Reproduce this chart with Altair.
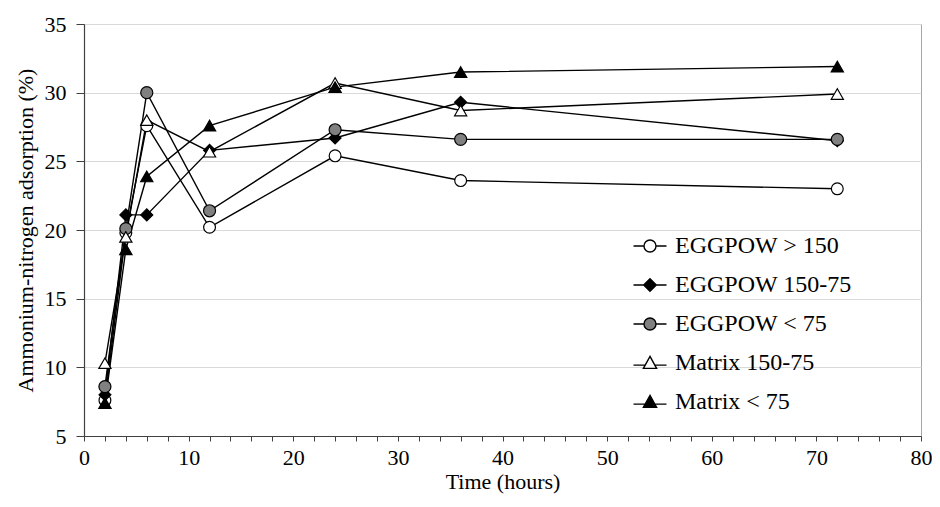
import altair as alt
import pandas as pd

hours = [2, 4, 6, 12, 24, 36, 72]
series_names = ["EGGPOW > 150", "EGGPOW 150-75", "EGGPOW < 75", "Matrix 150-75", "Matrix < 75"]
eggpow_gt150 = [7.6, 19.8, 27.6, 20.2, 25.4, 23.6, 23.0]
eggpow_150_75 = [8.0, 21.1, 21.1, 25.8, 26.7, 29.3, 26.5]
eggpow_lt75 = [8.6, 20.1, 30.0, 21.4, 27.3, 26.6, 26.6]
matrix_150_75 = [10.3, 19.5, 28.0, 25.7, 30.7, 28.7, 29.9]
matrix_lt75 = [7.4, 18.6, 23.9, 27.6, 30.4, 31.5, 31.9]

all_values = [eggpow_gt150, eggpow_150_75, eggpow_lt75, matrix_150_75, matrix_lt75]
rows = []
for name, vals in zip(series_names, all_values):
    for h, v in zip(hours, vals):
        rows.append({"series": name, "time": h, "value": v})
df = pd.DataFrame(rows)

FONT = "Liberation Serif"
fills = ["white", "black", "#808080", "white", "black"]
strokes = ["black", "black", "black", "black", "black"]
shapes = ["circle", "diamond", "circle", "triangle-up", "triangle-up"]
sizes = [140, 150, 150, 190, 190]

# legend symbols: line stub + marker
circ = "M-2.75,0H-1M1,0H2.75M1,0A1,1,0,1,1,-1,0A1,1,0,1,1,1,0Z"
diam = "M-2.75,0H-1M1,0H2.75M0,-1.05L1.05,0L0,1.05L-1.05,0Z"
tri = "M-2.75,0.35H-0.8M0.8,0.35H2.75M0,-1.1L1.1,0.9L-1.1,0.9Z"
legend_shapes = [circ, diam, circ, tri, tri]

x_enc = alt.X(
    "time:Q",
    scale=alt.Scale(domain=[0, 80], nice=False, zero=False),
    axis=alt.Axis(
        title="Time (hours)",
        values=list(range(0, 81, 2)),
        labelExpr="datum.value % 10 === 0 ? datum.label : ''",
        labelOverlap=False,
        labelFlush=False,
        grid=False,
        tickSize=5,
        labelPadding=6,
        titlePadding=3,
        labelFont=FONT,
        titleFont=FONT,
        labelFontSize=22,
        titleFontSize=22,
    ),
)
y_enc = alt.Y(
    "value:Q",
    scale=alt.Scale(domain=[5, 35], nice=False, zero=False),
    axis=alt.Axis(
        title="Ammonium-nitrogen adsorption  (%)",
        values=[5, 10, 15, 20, 25, 30, 35],
        grid=True,
        tickSize=8,
        labelPadding=10,
        titlePadding=7,
        labelFont=FONT,
        titleFont=FONT,
        labelFontSize=22,
        titleFontSize=22,
    ),
)

base = alt.Chart(df)

lines = base.mark_line(color="black", strokeWidth=1.4).encode(
    x=x_enc, y=y_enc, detail="series:N", order="time:Q"
)

points = base.mark_point(filled=True, stroke="black", strokeWidth=1.2, opacity=1).encode(
    x=x_enc,
    y=y_enc,
    shape=alt.Shape("series:N", scale=alt.Scale(domain=series_names, range=shapes), legend=None),
    fill=alt.Fill("series:N", scale=alt.Scale(domain=series_names, range=fills), legend=None),
    size=alt.Size("series:N", scale=alt.Scale(domain=series_names, range=sizes), legend=None),
)

def make_legend():
    return alt.Legend(
        title=None,
        orient="none",
        legendX=554,
        legendY=210,
        symbolSize=144,
        symbolOpacity=1,
        symbolStrokeWidth=1.4,
        labelFont=FONT,
        labelFontSize=24,
        labelColor="black",
        labelOffset=13,
        rowPadding=15,
        padding=0,
        labelLimit=400,
    )

legend_layer = base.mark_point(filled=True, strokeWidth=1.4, opacity=0).encode(
    x=x_enc,
    y=y_enc,
    shape=alt.Shape("series:N", scale=alt.Scale(domain=series_names, range=legend_shapes), legend=make_legend()),
    fill=alt.Fill("series:N", scale=alt.Scale(domain=series_names, range=fills), legend=make_legend()),
    stroke=alt.Stroke("series:N", scale=alt.Scale(domain=series_names, range=strokes), legend=make_legend()),
)

chart = (
    alt.layer(lines, points, legend_layer)
    .resolve_scale(shape="independent", fill="independent", stroke="independent")
    .properties(
        width=837,
        height=412,
        autosize=alt.AutoSizeParams(type="none"),
        padding={"left": 76, "top": 16, "right": 11, "bottom": 61},
        background="white",
    )
    .configure_view(stroke="#a6a6a6", strokeWidth=1)
    .configure_axis(
        labelFont=FONT,
        titleFont=FONT,
        titleFontWeight="normal",
        labelColor="black",
        titleColor="black",
        domainColor="#404040",
        tickColor="#404040",
        gridColor="#d9d9d9",
        domainWidth=1.2,
    )
)

chart.save("out.html", embed_options={"renderer": "svg", "actions": False})
